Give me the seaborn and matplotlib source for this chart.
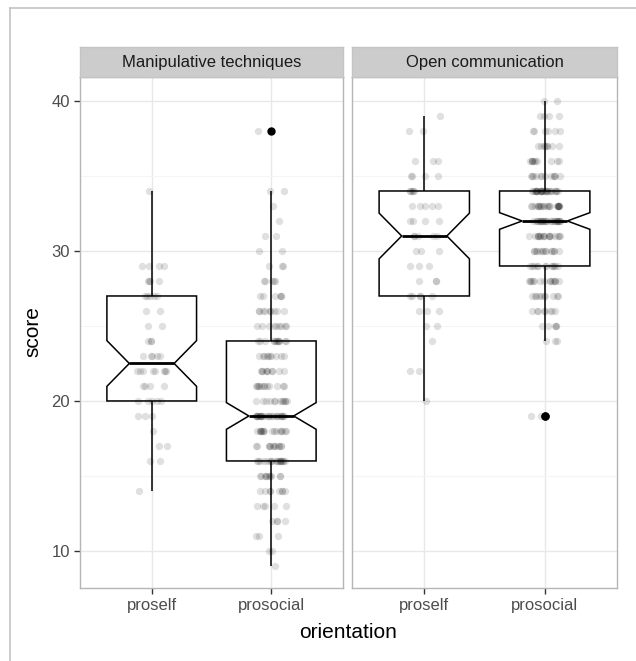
import numpy as np
import pandas as pd
import seaborn as sns
import matplotlib.pyplot as plt
from matplotlib.lines import Line2D
from matplotlib.ticker import MultipleLocator

# score values and how many people got each one
manip_proself_scores = [14, 16, 17, 18, 19, 20, 21, 22, 23, 24, 25, 26, 27, 28, 29, 34]
manip_proself_counts = [1, 2, 2, 1, 3, 5, 4, 8, 5, 3, 2, 2, 5, 4, 4, 1]

manip_prosocial_scores = [9, 10, 11, 12, 13, 14, 15, 16, 17, 18, 19, 20, 21, 22, 23, 24,
                          25, 26, 27, 28, 29, 30, 31, 32, 33, 34, 38]
manip_prosocial_counts = [1, 2, 3, 4, 5, 8, 10, 18, 12, 16, 24, 12, 12, 10, 10, 12,
                          9, 9, 6, 5, 3, 2, 2, 1, 1, 2, 1]

open_proself_scores = [20, 22, 24, 25, 26, 27, 28, 29, 30, 31, 32, 33, 34, 35, 36, 38, 39]
open_proself_counts = [1, 2, 1, 2, 3, 5, 3, 3, 3, 5, 4, 5, 5, 4, 3, 2, 1]

open_prosocial_scores = [19, 24, 25, 26, 27, 28, 29, 30, 31, 32, 33, 34, 35, 36, 37, 38, 39, 40]
open_prosocial_counts = [2, 3, 5, 8, 10, 14, 12, 14, 18, 24, 22, 26, 12, 10, 8, 6, 4, 2]

panels = ['Manipulative techniques', 'Open communication']
orientations = ['proself', 'prosocial']
y_ticks = [10, 20, 30, 40]

groups = [
    (panels[0], 'proself', manip_proself_scores, manip_proself_counts),
    (panels[0], 'prosocial', manip_prosocial_scores, manip_prosocial_counts),
    (panels[1], 'proself', open_proself_scores, open_proself_counts),
    (panels[1], 'prosocial', open_prosocial_scores, open_prosocial_counts),
]
rows = []
for panel, orient, sc, ct in groups:
    for s, c in zip(sc, ct):
        rows += [(panel, orient, s)] * c
df = pd.DataFrame(rows, columns=['panel', 'orientation', 'score'])

plt.rcParams['font.family'] = ['Liberation Sans', 'DejaVu Sans']

W, H = 636, 661
f = plt.figure(figsize=(W / 100, H / 100), dpi=100)
f.patch.set_facecolor('white')

# light frame at top and left of the picture
f.add_artist(Line2D([10 / W, 10 / W], [0, 1 - 8 / H], color='#c4c4c4', lw=1.2))
f.add_artist(Line2D([10 / W, 1], [1 - 8 / H, 1 - 8 / H], color='#c4c4c4', lw=1.2))

np.random.seed(7)

lefts = [80, 352]
widths = [263, 265]
for i, panel in enumerate(panels):
    ax = f.add_axes([lefts[i] / W, 1 - 588 / H, widths[i] / W, 511 / H])
    sub = df[df['panel'] == panel]

    sns.boxplot(data=sub, x='orientation', y='score', order=orientations, notch=True,
                width=0.75, color='white', linecolor='black', linewidth=1.1,
                fliersize=5, showcaps=False,
                flierprops=dict(marker='o', markerfacecolor='black', markeredgecolor='black'),
                medianprops=dict(linewidth=2), ax=ax)
    sns.stripplot(data=sub, x='orientation', y='score', order=orientations, color='black',
                  alpha=0.12, size=5.3, jitter=0.13, linewidth=0, zorder=3, ax=ax)

    ax.set_xlim(-0.6, 1.6)
    ax.set_ylim(7.53, 41.6)
    ax.set_yticks(y_ticks)
    ax.yaxis.set_minor_locator(MultipleLocator(5))
    ax.set_axisbelow(True)
    ax.grid(which='major', color='#e8e8e8', lw=1)
    ax.grid(which='minor', axis='y', color='#f5f5f5', lw=0.8)
    ax.set_xlabel('')
    ax.set_ylabel('')
    ax.tick_params(which='minor', length=0)
    ax.tick_params(which='major', length=4.3, width=1, color='#333333',
                   labelcolor='#4d4d4d', labelsize=12, pad=3)
    if i == 1:
        ax.tick_params(axis='y', labelleft=False, length=0)
    for sp in ax.spines.values():
        sp.set_color('#b5b5b5')
        sp.set_linewidth(1)

    sax = f.add_axes([lefts[i] / W, 1 - 77 / H, widths[i] / W, 30 / H])
    sax.set_facecolor('#cccccc')
    sax.set_xticks([])
    sax.set_yticks([])
    for sp in sax.spines.values():
        sp.set_color('#c4c4c4')
        sp.set_linewidth(1)
    sax.text(0.5, 0.5, panel, ha='center', va='center', fontsize=12, color='#1a1a1a',
             transform=sax.transAxes)

f.text(33 / W, 1 - 332 / H, 'score', rotation=90, ha='center', va='center', fontsize=15)
f.text(348 / W, 1 - 632 / H, 'orientation', ha='center', va='center', fontsize=15)

f.savefig('out.png', dpi=100)
